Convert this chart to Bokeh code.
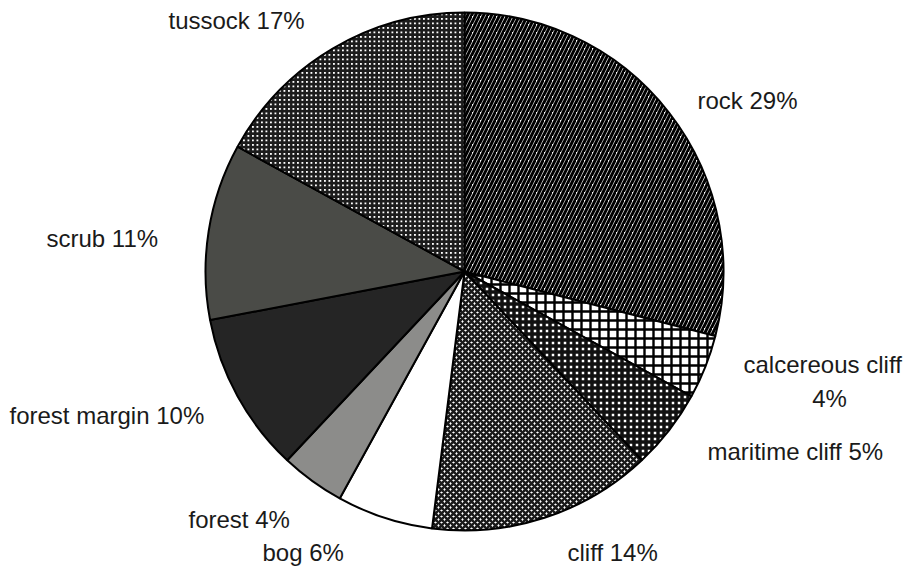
import math
from bokeh.plotting import figure
from bokeh.models import ColumnDataSource, Range1d
from bokeh.core.properties import value
from bokeh.embed import file_html
from bokeh.resources import INLINE

# ---- data ----
categories = ["rock", "calcereous cliff", "maritime cliff", "cliff", "bog",
              "forest", "forest margin", "scrub", "tussock"]
shares = [29, 4, 5, 14, 6, 4, 10, 11, 17]
label_texts = ["rock  29%", "calcereous cliff", "maritime cliff 5%", "cliff 14%",
               "bog 6%", "forest 4%", "forest margin 10%", "scrub 11%", "tussock 17%"]
extra_label = "4%"

# ---- styles ----
fills = ["white", "white", "white", "white", "white", "#8c8c8a", "#252525", "#4a4b47", "white"]
hatches = ["/", "+", "+", "x", " ", " ", " ", " ", "+"]
hatch_colors = ["black", "black", "#111111", "#1a1a1a", "black", "black", "black", "black", "#1c1c1c"]
hatch_scales = [8.0, 9.0, 6.0, 6.0, 1.0, 1.0, 1.0, 1.0, 4.5]
hatch_weights = [3.0, 2.4, 3.5, 2.6, 1.0, 1.0, 1.0, 1.0, 2.8]

W, H = 906, 567
def sy(y):  # page y (from top) to data y
    return H - y

cx, cy, r = 464, sy(271), 259

total = float(sum(shares))
cum = 0.0
starts, ends = [], []
for s in shares:
    starts.append(math.pi / 2 - 2 * math.pi * cum / total)
    cum += s
    ends.append(math.pi / 2 - 2 * math.pi * cum / total)

src = ColumnDataSource(dict(cat=categories, share=shares, start=starts, end=ends,
                            fill=fills, hatch=hatches, hcol=hatch_colors,
                            hscale=hatch_scales, hweight=hatch_weights))

p = figure(width=W, height=H, output_backend="svg", toolbar_location=None,
           x_range=Range1d(0, W), y_range=Range1d(0, H), min_border=0)
p.axis.visible = False
p.grid.visible = False
p.outline_line_color = None
p.background_fill_color = "white"
p.border_fill_color = "white"

p.wedge(x=cx, y=cy, radius=r, start_angle="start", end_angle="end", direction="clock",
        source=src, fill_color="fill", hatch_pattern="hatch", hatch_color="hcol",
        hatch_scale="hscale", hatch_weight="hweight",
        line_color="black", line_width=2)

# label positions (left edge x, vertical centre y in page px)
label_x = [697, 743, 707, 567, 262, 188, 9, 46, 168]
label_y = [100, 364, 451, 552, 552, 519, 415, 238, 20]
lab = ColumnDataSource(dict(x=label_x, y=[sy(v) for v in label_y], t=label_texts))
p.text(x="x", y="y", text="t", source=lab, text_font=value("Liberation Sans"),
       text_font_size="24px", text_align="left", text_baseline="middle",
       text_color="#1a1a1a")
p.text(x=[829], y=[sy(398)], text=[extra_label], text_font=value("Liberation Sans"),
       text_font_size="24px", text_align="center", text_baseline="middle",
       text_color="#1a1a1a")

open("out.html", "w").write(file_html(p, INLINE))
